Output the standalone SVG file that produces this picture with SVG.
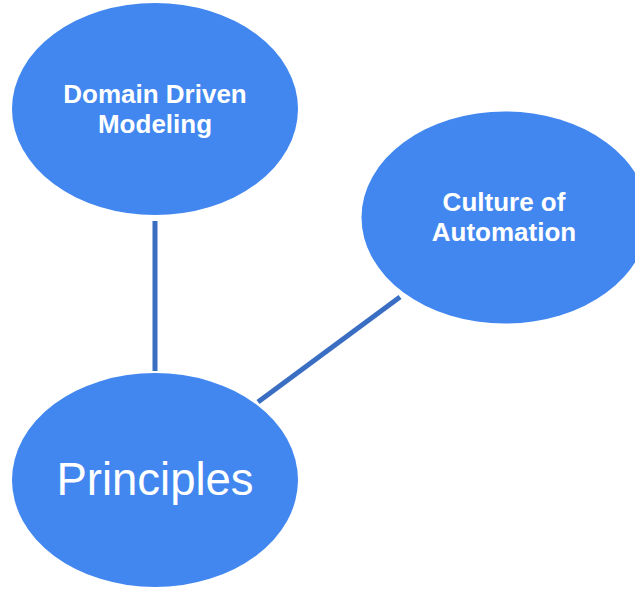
<svg xmlns="http://www.w3.org/2000/svg" width="635" height="589" viewBox="0 0 635 589">
<style>
.node{fill:#4287f0}
.edge{stroke:#3a6ec2;stroke-width:5;fill:none}
.lbl{fill:#ffffff;font-family:"Liberation Sans",Arial,sans-serif;text-anchor:middle}
.b{font-weight:bold;font-size:26px}
.r{font-size:45.5px}
</style>
<rect width="635" height="589" fill="#ffffff"/>
<g id="connectors">
<line class="edge" x1="155" y1="221" x2="155" y2="371"/>
<line class="edge" x1="258" y1="402" x2="400" y2="297"/>
</g>
<g id="domain">
<ellipse class="node" cx="155" cy="109" rx="143" ry="106"/>
<text class="lbl b" x="155" y="103">Domain Driven</text>
<text class="lbl b" x="155" y="133">Modeling</text>
</g>
<g id="culture">
<ellipse class="node" cx="505" cy="217.5" rx="143.5" ry="106"/>
<text class="lbl b" x="504" y="211">Culture of</text>
<text class="lbl b" x="504" y="241">Automation</text>
</g>
<g id="principles">
<ellipse class="node" cx="155" cy="480" rx="143" ry="107"/>
<text class="lbl r" x="155" y="495">Principles</text>
</g>
</svg>
